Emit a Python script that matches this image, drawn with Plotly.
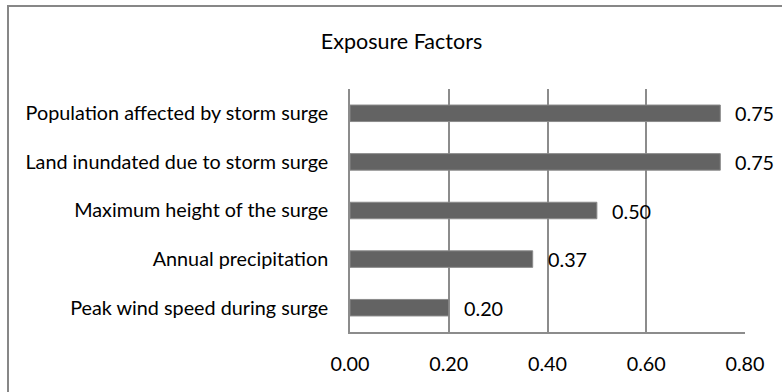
import plotly.graph_objects as go

# Exposure factor scores (listed bottom to top as drawn on the category axis)
factors = [
    "Peak wind speed during surge",
    "Annual precipitation",
    "Maximum height of the surge",
    "Land inundated due to storm surge",
    "Population affected by storm surge",
]
scores = [0.20, 0.37, 0.50, 0.75, 0.75]
x_ticks = [0.0, 0.2, 0.4, 0.6, 0.8]
x_tick_text = ["0.00", "0.20", "0.40", "0.60", "0.80"]
chart_title = "Exposure Factors"

FONT = "Lato"
FSIZE = 19.8
TSIZE = 21.5
GRID = "#8c8c8c"

fig = go.Figure(
    go.Bar(
        x=scores,
        y=factors,
        orientation="h",
        width=0.34,
        marker=dict(color="#636363", line=dict(color="#8a8a8a", width=1)),
        hoverinfo="skip",
    )
)

# Value labels to the right of each bar
for f, s in zip(factors, scores):
    fig.add_annotation(
        x=s, y=f, xref="x", yref="y",
        text=f"{s:.2f}", showarrow=False,
        xanchor="left", yanchor="middle", xshift=13,
        font=dict(family=FONT, size=FSIZE, color="#000000"),
    )

# Chart frame
fig.add_shape(
    type="rect", xref="paper", yref="paper",
    x0=(8 - 350) / 395, x1=(800 - 350) / 395,
    y0=(332 - 400) / 243, y1=(332 - 6) / 243,
    line=dict(color="#878787", width=2), fillcolor="rgba(0,0,0,0)",
    layer="below",
)

fig.update_layout(
    width=782,
    height=392,
    margin=dict(l=350, r=37, t=89, b=60),
    paper_bgcolor="white",
    plot_bgcolor="white",
    showlegend=False,
    font=dict(family=FONT, size=FSIZE, color="#000000"),
    title=dict(
        text=chart_title,
        x=401.5 / 782, xanchor="center", xref="container",
        y=1 - 41 / 392, yanchor="middle", yref="container",
        font=dict(family=FONT, size=TSIZE, color="#000000"),
    ),
    xaxis=dict(
        range=[0, 0.8],
        tickvals=x_ticks,
        ticktext=x_tick_text,
        showgrid=True,
        gridcolor=GRID,
        gridwidth=1.5,
        showline=True,
        linecolor=GRID,
        linewidth=1.5,
        zeroline=False,
        ticks="",
        ticklabelstandoff=13,
        fixedrange=True,
    ),
    yaxis=dict(
        categoryorder="array",
        categoryarray=factors,
        showgrid=False,
        showline=True,
        linecolor=GRID,
        linewidth=1.5,
        ticks="",
        ticklabelstandoff=16,
        fixedrange=True,
    ),
)

fig.write_html("out.html")
